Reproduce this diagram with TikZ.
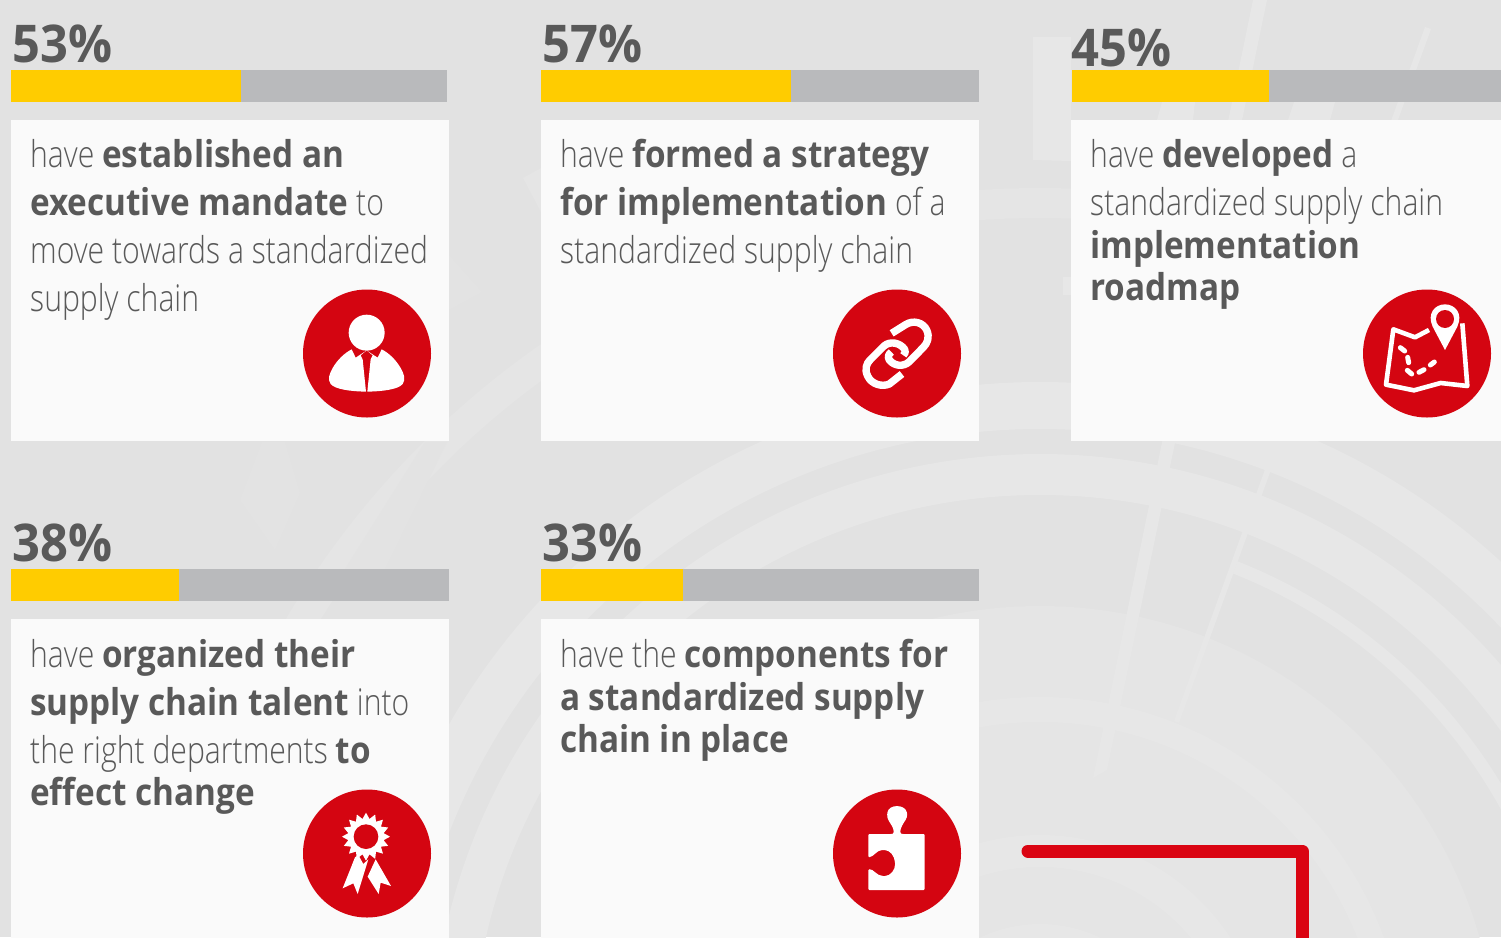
\documentclass[tikz,border=0pt]{standalone}
\usepackage{fontspec}
\setmainfont{Open Sans Light}[FakeStretch=0.815,BoldFont={Open Sans Bold},BoldFeatures={FakeStretch=0.90}]
\newfontfamily\pctfont{Open Sans Bold}[FakeStretch=0.94]
\definecolor{bgc}{HTML}{E2E2E2}
\definecolor{ringc}{HTML}{E7E7E7}
\definecolor{ringb}{HTML}{E5E5E5}
\definecolor{discc}{HTML}{E5E5E5}
\definecolor{faintc}{HTML}{E3E3E3}
\definecolor{cardc}{HTML}{FAFAFA}
\definecolor{barc}{HTML}{B9BABC}
\definecolor{yelc}{HTML}{FFCC00}
\definecolor{redc}{HTML}{D40511}
\definecolor{linec}{HTML}{DA0412}
\definecolor{txtc}{HTML}{595959}
\tikzset{
 card/.style={fill=cardc,draw=none},
 track/.style={fill=barc,draw=none},
 fillbar/.style={fill=yelc,draw=none},
 badge/.style={fill=redc,draw=none},
 pct/.style={anchor=base west,inner sep=0pt,text=txtc,font=\pctfont\fontsize{52}{52}\selectfont},
 body/.style={anchor=base west,inner sep=0pt,text=txtc,font=\fontsize{37}{37}\selectfont},
 glyph/.style={fill=white,draw=none},
 stroked/.style={draw=white,line width=7.4pt,line cap=round,line join=round},
 icon/.style={shift={#1},x=0.3333pt,y=-0.3333pt},
}
\begin{document}
\begin{tikzpicture}[x=1pt,y=-1pt]
\useasboundingbox (0,0) rectangle (1501,937);
\clip (0,0) rectangle (1501,937);
\fill[bgc] (0,0) rectangle (1501,937);
% background rings, all around one centre
\coordinate (rc) at (1040,1063);
\draw[ringb,line width=30pt] (rc) circle (860);
\draw[ringc,line width=47pt] (rc) circle (657.5);
\draw[ringc,line width=41pt] (rc) circle (588.5);
\begin{scope}
 \clip (1430,28) -- (1179,723) -- (1501,937) -- (1501,0) -- cycle;
 \draw[ringc,line width=13pt] (rc) circle (532.5);
\end{scope}
\fill[discc] (rc) circle (457);
\draw[ringc,line width=25pt] (rc) circle (353.5);
\draw[ringc,line width=32pt] (rc) circle (212);
\fill[ringc] (rc) circle (139);
% radial strips and faint fragments
\fill[ringc] (1253,0) -- (1267,0) -- (1107,770) -- (1093,778) -- cycle;
\fill[ringc] (1425,27) -- (1431,29) -- (1179,723) -- (1174,721) -- cycle;
\fill[ringc] (1033,37) -- (1071,37) -- (1071,161) -- (1033,160) -- cycle;
\fill[ringc] (1063,277) rectangle (1071,295);
\fill[ringc] (1157,120) -- (1162,102) -- (1195,102) -- (1193,120) -- cycle;
\fill[ringc] (1288,120) -- (1294,102) -- (1335,102) -- (1330,120) -- cycle;
\fill[ringb] (523,178) -- (541,168) -- (541,212) -- cycle;
\fill[faintc] (449,255) -- (482,292) -- (449,310) -- cycle;
\fill[faintc] (240,500) -- (262,442) -- (285,442) -- (300,493) -- (275,550) -- cycle;
\fill[faintc] (425,442) -- (447,442) -- (385,569) -- (345,569) -- cycle;
% bars
\fill[track] (11,70) rectangle (447,102);
\fill[fillbar] (11,70) rectangle (241,102);
\fill[track] (541,70) rectangle (979,102);
\fill[fillbar] (541,70) rectangle (791,102);
\fill[track] (1072,70) rectangle (1501,102);
\fill[fillbar] (1072,70) rectangle (1269,102);
\fill[track] (11,569) rectangle (449,601);
\fill[fillbar] (11,569) rectangle (179,601);
\fill[track] (541,569) rectangle (979,601);
\fill[fillbar] (541,569) rectangle (683,601);
% cards
\fill[card] (11,120) rectangle (449,441);
\fill[card] (541,120) rectangle (979,441);
\fill[card] (1071,120) rectangle (1505,441);
\fill[card] (11,619) rectangle (449,945);
\fill[card] (541,619) rectangle (979,945);
% percent labels
\node[pct] (p1) at (12,62) {53\%};
\node[pct] (p2) at (542,62) {57\%};
\node[pct] (p3) at (1071,66) {45\%};
\node[pct] (p4) at (12,561) {38\%};
\node[pct] (p5) at (542,561) {33\%};
% texts
\node[body] (a1) at (30,167) {have \textbf{established an}};
\node[body] (a2) at (30,215) {\textbf{executive mandate} to};
\node[body] (a3) at (30,263) {move towards a standardized};
\node[body] (a4) at (30,311) {supply chain};
\node[body] (b1) at (560,167) {have \textbf{formed a strategy}};
\node[body] (b2) at (560,215) {\textbf{for implementation} of a};
\node[body] (b3) at (560,263) {standardized supply chain};
\node[body] (c1) at (1090,167) {have \textbf{developed} a};
\node[body] (c2) at (1090,215) {standardized supply chain};
\node[body] (c3) at (1090,258) {\textbf{implementation}};
\node[body] (c4) at (1090,300) {\textbf{roadmap}};
\node[body] (d1) at (30,667) {have \textbf{organized their}};
\node[body] (d2) at (30,715) {\textbf{supply chain talent} into};
\node[body] (d3) at (30,763) {the right departments \textbf{to}};
\node[body] (d4) at (30,805) {\textbf{effect change}};
\node[body] (e1) at (560,667) {have the \textbf{components for}};
\node[body] (e2) at (560,710) {\textbf{a standardized supply}};
\node[body] (e3) at (560,752) {\textbf{chain in place}};
% badges
\fill[badge] (367,353.5) circle (64);
\fill[badge] (897,353.5) circle (64);
\fill[badge] (1427,353.5) circle (64);
\fill[badge] (367,853.5) circle (64);
\fill[badge] (897,853.5) circle (64);
% person icon
\begin{scope}[icon={(290,280)}]
 \fill[glyph] (230,158) circle (54);
 \fill[glyph] (228,335) .. controls (180,334) and (135,328) .. (122,312) .. controls (112,298) and (118,282) .. (128,264) .. controls (142,240) and (162,220) .. (185,208) -- (197,233) -- (229,212) -- (212,226) -- (218,238) -- cycle;
 \fill[glyph] (232,335) .. controls (280,334) and (325,328) .. (338,312) .. controls (348,298) and (342,282) .. (332,264) .. controls (318,240) and (298,220) .. (275,208) -- (263,233) -- (231,212) -- (248,226) -- (242,238) -- cycle;
\end{scope}
% link icon
\begin{scope}[icon={(820,280)}]
 \draw[stroked,line cap=butt] (215,160) -- (255,135) .. controls (280,118) and (310,128) .. (320,150) .. controls (330,172) and (322,190) .. (310,202) -- (268,245) .. controls (250,262) and (222,258) .. (208,240) .. controls (202,230) and (206,222) .. (214,216);
 \draw[stroked,line cap=butt] (246,282) -- (208,312) .. controls (185,322) and (155,312) .. (144,290) .. controls (132,268) and (140,250) .. (150,240) -- (192,198) .. controls (210,182) and (240,188) .. (254,208) .. controls (258,216) and (256,220) .. (250,226);
\end{scope}
% map icon
\begin{scope}[icon={(1350,280)}]
 \draw[draw=white,line width=4.6pt,line join=round] (237,150) -- (195,172) -- (130,148) -- (108,314) -- (192,331) -- (272,309) -- (352,318) -- (337,130);
 \fill[glyph] (285,210) -- (248,140) .. controls (230,100) and (255,73) .. (285,73) .. controls (315,73) and (340,100) .. (322,140) -- cycle;
 \fill[badge] (285,117) circle (27);
 \draw[stroked,line width=5pt] (151,203) -- (164,213);
 \draw[stroked,line width=5pt] (173,232) -- (176,248);
 \draw[stroked,line width=5pt] (172,271) -- (185,282);
 \draw[stroked,line width=5pt] (207,277) -- (222,269);
 \draw[stroked,line width=5pt] (241,255) -- (253,246);
\end{scope}
% rosette icon
\begin{scope}[icon={(290,780)}]
 \begin{scope}[shift={(228,170)}]
 \fill[glyph] (0:24pt) \foreach \a in {22.5,45,...,337.5} { -- (\a-11.25:18pt) -- (\a:24pt) } -- (348.75:18pt) -- cycle;
 \fill[badge] (0,0) circle (37);
 \end{scope}
 \fill[glyph] (195,232) -- (158,325) -- (190,310) -- (203,342) -- (235,238) -- (220,252) -- (205,225) -- cycle;
 \fill[glyph] (257,238) -- (233,290) -- (266,342) -- (272,308) -- (303,318) -- cycle;
\end{scope}
% puzzle icon
\begin{scope}[icon={(820,780)}]
 \fill[glyph,rounded corners=1pt] (145,162) -- (215,162) .. controls (222,160) and (222,150) .. (216,138) .. controls (208,125) and (200,115) .. (202,100) .. controls (206,72) and (256,72) .. (261,100) .. controls (263,115) and (252,125) .. (246,138) .. controls (240,150) and (240,160) .. (247,162) -- (314,162) -- (314,330) -- (145,330) -- (145,268) .. controls (160,266) and (170,288) .. (192,288) .. controls (212,288) and (226,268) .. (225,250) .. controls (224,228) and (210,210) .. (190,210) .. controls (170,210) and (162,230) .. (145,232) -- cycle;
\end{scope}
% red line
\coordinate (l1) at (1028,851);
\coordinate (l2) at (1302,851);
\coordinate (l3) at (1302,945);
\draw[linec,line width=13pt,line cap=round,line join=round] (l1) -- (l2) -- (l3);
\end{tikzpicture}
\end{document}
